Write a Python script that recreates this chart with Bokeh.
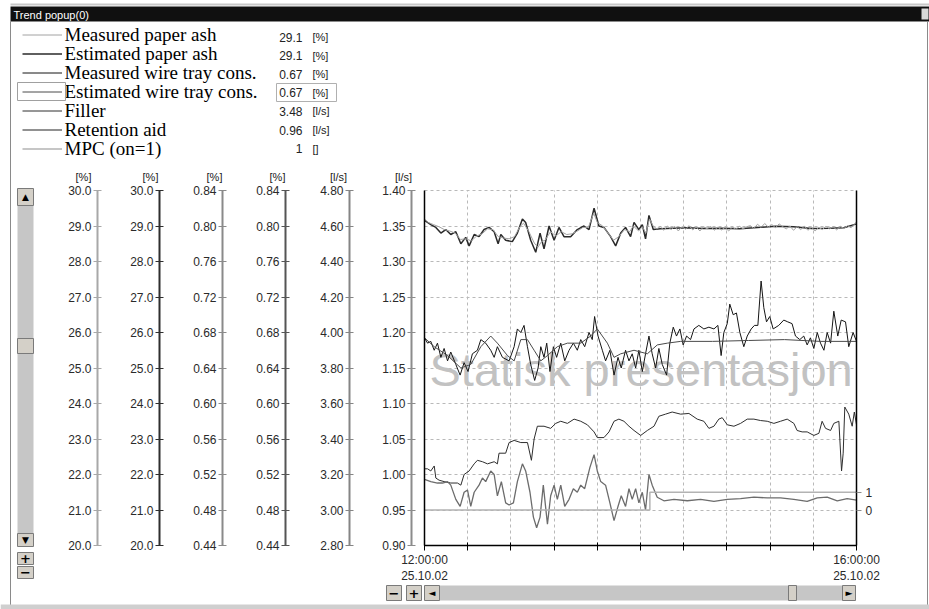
from bokeh.plotting import figure
from bokeh.models import (Range1d, LinearAxis, FixedTicker, PrintfTickFormatter, Grid,
                          Label, BoxAnnotation, Legend, LegendItem)
from bokeh.embed import file_html
from bokeh.resources import INLINE

# ------------------------------------------------------------------ data
window_title = "Trend popup(0)"
watermark = "Statisk presentasjon"

series_names = ["Measured paper ash", "Estimated paper ash", "Measured wire tray cons.",
                "Estimated wire tray cons.", "Filler", "Retention aid", "MPC (on=1)"]
series_units = ["[%]", "[%]", "[%]", "[%]", "[l/s]", "[l/s]", "[]"]
axis_units = ["[%]", "[%]", "[%]", "[%]", "[l/s]", "[l/s]"]

# time in minutes after 12:00:00
x_ticks = [0, 24, 48, 72, 96, 120, 144, 168, 192, 216, 240]
x_tick_labels = ["12:00:00\n25.10.02", "", "", "", "", "", "", "", "", "", "16:00:00\n25.10.02"]

ash_ticks = [20, 21, 22, 23, 24, 25, 26, 27, 28, 29, 30]
wire_ticks = [0.44, 0.48, 0.52, 0.56, 0.60, 0.64, 0.68, 0.72, 0.76, 0.80, 0.84]
filler_ticks = [2.8, 3.0, 3.2, 3.4, 3.6, 3.8, 4.0, 4.2, 4.4, 4.6, 4.8]
ret_ticks = [0.90, 0.95, 1.00, 1.05, 1.10, 1.15, 1.20, 1.25, 1.30, 1.35, 1.40]
mpc_ticks = [0, 1]

t_ash_meas = [0, 2, 5, 8, 11, 14, 17, 20, 23, 26, 29, 32, 35, 38, 41, 44, 47, 50, 53, 55,
              58, 61, 63, 65, 67, 70, 73, 76, 79, 82, 85, 88, 91, 94, 96, 99, 102, 105, 108, 111,
              114, 116, 119, 121, 123, 125, 127, 129, 131, 133, 135, 137, 139, 141, 143, 145,
              147, 149, 151, 153, 155, 157, 159, 161, 163, 165, 167, 169, 171, 173, 175, 177,
              179, 181, 183, 185, 187, 189, 191, 193, 195, 197, 199, 201, 203, 205, 207, 209,
              211, 213, 215, 217, 219, 221, 223, 225, 227, 229, 231, 233, 235, 237, 239, 240]
ash_meas = [29.20, 29.10, 29.04, 28.98, 28.90, 28.86, 28.80, 28.62, 28.64, 28.58, 28.72, 28.78,
            28.92, 28.90, 28.70, 28.66, 28.64, 28.70, 28.98, 29.08, 28.84, 28.52, 28.40, 28.56,
            28.60, 28.84, 28.72, 28.84, 28.76, 28.78, 28.86, 28.96, 28.96, 29.36, 29.10, 29.00,
            28.80, 28.60, 28.70, 28.90, 28.84, 29.00, 28.86, 28.98, 28.80, 29.20, 29.00, 28.92,
            28.98, 28.88, 29.00, 28.90, 28.99, 28.86, 28.98, 28.91, 29.01, 28.89, 28.97, 28.86,
            28.98, 28.92, 28.99, 28.88, 28.97, 28.89, 28.96, 28.86, 28.97, 28.91, 28.99, 28.92,
            28.98, 29.01, 28.93, 29.05, 28.96, 29.07, 28.97, 29.04, 28.95, 29.06, 28.98, 28.92,
            29.00, 28.88, 28.98, 28.90, 28.99, 28.88, 28.97, 28.86, 28.96, 28.90, 28.99, 28.92,
            28.98, 28.89, 28.99, 28.93, 29.01, 28.95, 29.06, 29.12]

t_ash_est = [0, 3.5, 6.3, 9.1, 11.8, 14.6, 17.4, 20.2, 22.9, 24.8, 27.6, 30.3, 33.1, 35.9, 38.7,
             40.9, 42.4, 45.1, 48.8, 51.6, 54.4, 56.2, 59.0, 61.8, 64.2, 66.4, 69.2, 72.0, 74.7,
             77.5, 81.2, 84.9, 88.6, 91.4, 94.2, 96.9, 99.7, 103.4, 106.2, 109.0, 111.7, 114.5,
             116.4, 119.1, 121.0, 122.8, 124.7, 127.1, 131, 138, 146, 155, 165, 175, 185, 195,
             205, 215, 225, 233, 240]
ash_est = [29.16, 29.04, 28.96, 28.80, 28.90, 28.76, 28.84, 28.50, 28.68, 28.44, 28.76, 28.70,
           28.90, 28.96, 28.84, 28.50, 28.76, 28.60, 28.56, 28.80, 29.20, 29.10, 28.60, 28.26,
           28.80, 28.36, 29.00, 28.60, 28.96, 28.70, 28.70, 28.90, 29.00, 28.90, 29.50, 29.00,
           28.96, 28.70, 28.44, 28.80, 28.96, 28.70, 29.10, 28.90, 29.04, 28.64, 29.30, 28.90,
           28.92, 28.94, 28.95, 28.93, 28.94, 28.92, 28.96, 28.99, 28.98, 28.93, 28.94, 28.95,
           29.06]

t_wire_meas = [0, 1.7, 3.5, 5.4, 7.2, 9.1, 10.9, 12.8, 14.6, 17.4, 19.8, 22.0, 24.2, 26.6, 29.4,
               31.3, 34.0, 36.8, 38.7, 40.5, 43.3, 47.0, 49.8, 51.6, 53.5, 55.3, 57.2, 59.0, 61.2,
               63.1, 64.6, 66.4, 67.9, 69.7, 71.6, 73.4, 75.7, 77.9, 80.3, 82.7, 84.9, 86.8, 89.0,
               91.4, 93.2, 94.5, 96.4, 98.8, 100.6, 103.0, 105.3, 107.5, 109.3, 111.7, 113.6,
               115.4, 117.3, 119.1, 121.0, 122.8, 124.7, 126.5, 128.4, 130.2, 132.1, 134.5, 136.3,
               138.2, 140.0, 141.9, 143.7, 145.6, 147.8, 149.7, 152.4, 155.2, 158.0, 160.8, 163.0,
               164.8, 166.3, 168.2, 169.6, 171.5, 173.3, 175.2, 177.4, 179.3, 181.5, 183.3, 185.2,
               187.0, 188.5, 190.0, 191.8, 193.7, 196.8, 199.6, 201.8, 204.2, 206.1, 208.5, 210.7,
               212.6, 214.4, 216.3, 218.2, 220.0, 221.9, 223.7, 225.6, 227.4, 229.6, 231.5, 233.9,
               235.7, 238.1, 240]
wire_meas = [0.674, 0.668, 0.670, 0.660, 0.668, 0.652, 0.662, 0.648, 0.658, 0.644,
             0.632, 0.646, 0.636, 0.656, 0.660, 0.672, 0.668, 0.660, 0.652, 0.664,
             0.652, 0.648, 0.664, 0.684, 0.680, 0.688, 0.664, 0.644, 0.626, 0.640,
             0.664, 0.652, 0.668, 0.636, 0.664, 0.652, 0.668, 0.648, 0.660, 0.668,
             0.660, 0.672, 0.664, 0.680, 0.672, 0.698, 0.676, 0.660, 0.648, 0.660,
             0.632, 0.652, 0.640, 0.660, 0.648, 0.656, 0.640, 0.660, 0.636, 0.656,
             0.676, 0.656, 0.640, 0.662, 0.644, 0.632, 0.668, 0.686, 0.676, 0.684,
             0.666, 0.676, 0.672, 0.684, 0.688, 0.684, 0.686, 0.684, 0.688, 0.654,
             0.680, 0.690, 0.712, 0.700, 0.702, 0.680, 0.664, 0.676, 0.684, 0.688,
             0.688, 0.738, 0.708, 0.692, 0.698, 0.684, 0.688, 0.694, 0.692, 0.690,
             0.676, 0.672, 0.676, 0.666, 0.674, 0.662, 0.680, 0.668, 0.660, 0.680,
             0.668, 0.704, 0.676, 0.694, 0.692, 0.664, 0.680, 0.670]

t_wire_est = [0, 5.4, 12.8, 20.2, 25.7, 31.3, 36.8, 40.5, 46.1, 49.8, 53.5, 57.2, 60.9, 64.6,
              68.3, 73.8, 79.4, 86.8, 92.3, 96.0, 101.6, 105.3, 109.0, 116.4, 123.8, 129.3,
              134.9, 142.3, 160, 180, 200, 220, 240]
wire_est = [0.674, 0.664, 0.654, 0.640, 0.644, 0.664, 0.676, 0.668, 0.654, 0.648, 0.672, 0.672,
            0.660, 0.648, 0.654, 0.664, 0.668, 0.668, 0.676, 0.684, 0.668, 0.652, 0.656, 0.660,
            0.656, 0.666, 0.668, 0.670, 0.670, 0.671, 0.672, 0.670, 0.670]

t_filler = [0, 1.7, 3.5, 5.4, 6.3, 8.1, 10.9, 14.6, 18.3, 20.2, 22.0, 24.8, 27.6, 29.4, 32.2,
            35.0, 38.7, 40.5, 41.4, 45.1, 47.0, 49.8, 53.5, 57.2, 59.4, 60.9, 62.7, 66.4, 70.1,
            72.9, 75.7, 79.4, 83.1, 86.8, 90.5, 94.2, 96.0, 99.7, 102.5, 105.3, 108.0, 110.8,
            113.6, 116.4, 120.1, 123.8, 127.5, 130.2, 133.9, 137.6, 142.3, 146.9, 151.5, 155.2,
            158.0, 160.8, 163.5, 165.4, 168.2, 171.9, 175.6, 179.3, 183.0, 186.7, 190.4, 194.1,
            197.8, 201.5, 205.2, 207.0, 209.8, 212.6, 216.3, 219.1, 220.9, 222.8, 225.6, 227.4,
            230.2, 231.7, 232.6, 233.5, 235.7, 237.6, 238.8, 240]
filler = [3.232, 3.232, 3.220, 3.248, 3.180, 3.168, 3.160, 3.152, 3.152, 3.140,
          3.200, 3.220, 3.260, 3.280, 3.272, 3.260, 3.272, 3.260, 3.320, 3.320,
          3.380, 3.392, 3.380, 3.380, 3.280, 3.400, 3.472, 3.472, 3.460, 3.488,
          3.500, 3.488, 3.512, 3.500, 3.480, 3.440, 3.408, 3.408, 3.440, 3.500,
          3.512, 3.500, 3.472, 3.448, 3.420, 3.448, 3.472, 3.528, 3.540, 3.552,
          3.540, 3.544, 3.512, 3.500, 3.460, 3.472, 3.512, 3.520, 3.480, 3.472,
          3.488, 3.512, 3.512, 3.504, 3.500, 3.488, 3.500, 3.512, 3.488, 3.448,
          3.440, 3.440, 3.420, 3.432, 3.500, 3.460, 3.448, 3.488, 3.500, 3.220,
          3.320, 3.580, 3.540, 3.472, 3.552, 3.480]

t_ret = [0, 3.5, 7.2, 10.0, 12.8, 14.6, 17.4, 19.8, 22.0, 23.9, 25.7, 27.6, 30.3, 32.2, 34.0,
         36.8, 38.7, 40.5, 42.7, 45.1, 47.0, 49.4, 51.6, 54.4, 56.2, 58.6, 60.5, 62.3, 64.2,
         66.0, 68.3, 70.1, 72.0, 73.8, 75.7, 77.9, 80.3, 82.7, 84.9, 86.8, 89.0, 91.9, 94.2,
         96.0, 97.9, 100.6, 103.0, 105.3, 107.5, 109.3, 111.7, 113.6, 115.4, 117.3, 119.1,
         121.0, 122.8, 124.7, 126.5, 129.3, 133.0, 138.6, 146.0, 153.4, 160.8, 168.2, 175.6,
         183.0, 190.4, 197.8, 205.2, 212.6, 218.2, 223.7, 229.3, 234.8, 240]
ret_aid = [0.993, 0.990, 0.988, 0.988, 0.990, 0.985, 0.965, 0.955, 0.975, 0.978,
           0.955, 0.975, 0.985, 0.995, 0.990, 1.005, 1.000, 0.970, 0.990, 0.960,
           0.957, 0.960, 0.990, 1.015, 1.005, 0.975, 0.940, 0.925, 0.940, 0.985,
           0.930, 0.970, 0.985, 0.965, 0.985, 0.955, 0.965, 0.980, 0.975, 0.985,
           0.980, 1.010, 1.028, 1.005, 0.990, 0.985, 0.960, 0.935, 0.955, 0.970,
           0.955, 0.980, 0.965, 0.980, 0.960, 0.975, 0.950, 1.000, 0.985, 0.968,
           0.963, 0.965, 0.963, 0.965, 0.962, 0.965, 0.966, 0.968, 0.967, 0.967,
           0.965, 0.962, 0.967, 0.968, 0.963, 0.966, 0.964]

t_mpc = [0, 125.2, 125.2, 240]
mpc = [0, 0, 1, 1]

# ------------------------------------------------------------------ layout
# The plot frame covers the whole page; every scale is pinned to pixel anchors
# so that the trend area spans x 424..856 and y 190..545.
W, H = 929, 609
PX_T0, PX_T1 = 424, 856          # 12:00 and 16:00
PY_TOP, PY_BOT = 190, 545        # top and bottom of the value axes
AXIS_PX = [97, 159, 222, 285, 349, 411]   # left value axes, outermost first
PY_MPC0, PY_MPC1 = 509.5, 491.75           # MPC 0 and 1


def fitted_range(v0, v1, p0, p1, size):
    """Range whose value v0 sits at pixel p0 and v1 at pixel p1 (measured from the low end)."""
    k = (v1 - v0) / (p1 - p0)
    return Range1d(v0 - p0 * k, v0 + (size - p0) * k)


def y_range_for(lo, hi):
    return fitted_range(lo, hi, H - PY_BOT, H - PY_TOP, H)


x_range = fitted_range(0, 240, PX_T0, PX_T1, W)


def x_at(px):
    return (px - PX_T0) * 240.0 / (PX_T1 - PX_T0)


p = figure(width=W, height=H, output_backend="svg", toolbar_location=None,
           x_range=x_range, y_range=y_range_for(0.90, 1.40),
           x_axis_type=None, y_axis_type=None,
           min_border_left=0, min_border_right=0, min_border_top=0, min_border_bottom=0)
p.outline_line_color = None
p.background_fill_color = "white"
p.border_fill_color = "white"

p.extra_y_ranges = {
    "ash": y_range_for(20, 30),
    "wire": y_range_for(0.44, 0.84),
    "filler": y_range_for(2.8, 4.8),
    "mpc": fitted_range(0, 1, H - PY_MPC0, H - PY_MPC1, H),
}


def sx(cx):
    return cx


def sy(cy):
    return H - cy


# dashed grid inside the trend area
p.add_layout(Grid(dimension=0, ticker=FixedTicker(ticks=x_ticks), cross_bounds=(0.90, 1.40),
                  grid_line_color="#b9b9b9", grid_line_dash="3 3"))
p.add_layout(Grid(dimension=1, ticker=FixedTicker(ticks=ret_ticks), cross_bounds=(0, 240),
                  grid_line_color="#b9b9b9", grid_line_dash="3 3"))

# watermark behind the traces
p.add_layout(Label(x=sx(429), y=sy(369), x_units="screen", y_units="screen",
                   text=watermark, text_font="Liberation Sans", text_font_size="47px",
                   text_color="#c2c2c2", text_baseline="middle", level="underlay"))

# traces
r_ash_e = p.line(t_ash_est, ash_est, y_range_name="ash", line_color="#2a2a2a", line_width=1.5)
r_ash_m = p.line(t_ash_meas, ash_meas, y_range_name="ash", line_color="#a2a2a2", line_width=1)
r_wire_m = p.line(t_wire_meas, wire_meas, y_range_name="wire", line_color="#151515", line_width=1)
r_wire_e = p.line(t_wire_est, wire_est, y_range_name="wire", line_color="#4a4a4a", line_width=1)
r_fill = p.line(t_filler, filler, y_range_name="filler", line_color="#2e2e2e", line_width=1)
r_ret = p.line(t_ret, ret_aid, line_color="#6c6c6c", line_width=1.3)
r_mpc = p.line(t_mpc, mpc, y_range_name="mpc", line_color="#b3b3b3", line_width=1.5)
renderers = [r_ash_m, r_ash_e, r_wire_m, r_wire_e, r_fill, r_ret, r_mpc]


def plain_ticks(ax, size="12px"):
    ax.minor_tick_in = 0
    ax.minor_tick_out = 0
    ax.major_label_text_font = "Liberation Sans"
    ax.major_label_text_font_size = size
    ax.major_label_text_color = "#2a2a2a"


# time axis
xa = LinearAxis(fixed_location=0.90, bounds=(0, 240), ticker=FixedTicker(ticks=x_ticks),
                major_label_overrides=dict(zip(x_ticks, x_tick_labels)))
xa.axis_line_color = "black"
xa.axis_line_width = 1.5
xa.major_tick_line_color = "black"
xa.major_tick_in = 3
xa.major_tick_out = 5
xa.major_label_standoff = 2
plain_ticks(xa)
p.add_layout(xa, "below")

# left edge of the trend area
edge = LinearAxis(fixed_location=0, bounds=(0.90, 1.40), ticker=FixedTicker(ticks=[]))
edge.axis_line_color = "black"
edge.axis_line_width = 1.5
p.add_layout(edge, "left")

# value axes, outermost first
left_axes = [
    ("ash", ash_ticks, (20, 30), "%.1f", "#a8a8a8"),
    ("ash", ash_ticks, (20, 30), "%.1f", "#2e2e2e"),
    ("wire", wire_ticks, (0.44, 0.84), "%.2f", "#8a8a8a"),
    ("wire", wire_ticks, (0.44, 0.84), "%.2f", "#555555"),
    ("filler", filler_ticks, (2.8, 4.8), "%.2f", "#858585"),
    ("default", ret_ticks, (0.90, 1.40), "%.2f", "#8c8c8c"),
]
for px, (name, ticks, bounds, fmt, color) in zip(AXIS_PX, left_axes):
    ax = LinearAxis(y_range_name=name, fixed_location=x_at(px), bounds=bounds,
                    ticker=FixedTicker(ticks=ticks), formatter=PrintfTickFormatter(format=fmt))
    ax.axis_line_color = color
    ax.axis_line_width = 2
    ax.major_tick_line_color = color
    ax.major_tick_in = 4
    ax.major_tick_out = 4
    ax.major_label_standoff = 2
    plain_ticks(ax)
    p.add_layout(ax, "left")

# MPC on/off axis on the right edge of the trend area
ax_mpc = LinearAxis(y_range_name="mpc", fixed_location=240, bounds=(-2, 18),
                    ticker=FixedTicker(ticks=mpc_ticks), formatter=PrintfTickFormatter(format="%d"))
ax_mpc.axis_line_color = "black"
ax_mpc.axis_line_width = 1.5
ax_mpc.major_tick_line_color = "#8c8c8c"
ax_mpc.major_tick_in = 0
ax_mpc.major_tick_out = 5
ax_mpc.major_label_standoff = 4
plain_ticks(ax_mpc)
p.add_layout(ax_mpc, "right")


def add_text(cx, cy, text, size="12px", color="#222222", font="Liberation Sans",
             align="left", baseline="middle", style="normal"):
    p.add_layout(Label(x=sx(cx), y=sy(cy), x_units="screen", y_units="screen", text=text,
                       text_font=font, text_font_size=size, text_color=color,
                       text_align=align, text_baseline=baseline, text_font_style=style,
                       level="overlay"))


def add_box(x0, y0, x1, y1, fill=None, line=None, lw=1):
    p.add_layout(BoxAnnotation(left=sx(x0), right=sx(x1), top=sy(y0), bottom=sy(y1),
                               left_units="screen", right_units="screen",
                               top_units="screen", bottom_units="screen",
                               fill_color=fill, fill_alpha=1.0 if fill else 0.0,
                               line_color=line, line_alpha=1.0 if line else 0.0,
                               line_width=lw, level="overlay"))


# legend: line keys from a compact Legend, names and current values as text beside them
ROW_STEP = 19
FIRST_ROW_Y = 34
n_rows = len(series_names)
legend = Legend(items=[LegendItem(label=" ", renderers=[r]) for r in renderers],
                location=(sx(22), sy(FIRST_ROW_Y - ROW_STEP / 2) - n_rows * ROW_STEP),
                label_text_font_size="1px", label_width=1, label_height=ROW_STEP,
                glyph_width=40, glyph_height=ROW_STEP, label_standoff=0, spacing=0,
                padding=0, margin=0, border_line_color=None, background_fill_alpha=0)
p.add_layout(legend)

last_values = [ash_meas[-1], ash_est[-1], wire_meas[-1], wire_est[-1], filler[-1], ret_aid[-1], mpc[-1]]
value_formats = ["%.1f", "%.1f", "%.2f", "%.2f", "%.2f", "%.2f", "%d"]
for i, (name, v, fmt, u) in enumerate(zip(series_names, last_values, value_formats, series_units)):
    add_text(64, FIRST_ROW_Y + ROW_STEP * i, name, size="19px", color="black",
             font="Liberation Serif")
    cy = 36.5 + 18.6 * i
    add_text(302, cy, fmt % v, align="right")
    add_text(312, cy, u, size="11px")

# selected legend entry
add_box(17, 82, 65, 100, line="#a0a0a0")
add_box(276, 83, 336, 101, line="#b0b0b0")

# unit captions above the axes
for cx, u in zip([83, 150, 214, 277, 338, 403], axis_units):
    add_text(cx, 176, u, size="11px", align="center")

# window chrome
add_box(10, 3, 929, 5, fill="#c8c8c8")
add_box(10, 6, 929, 21, fill="#101010")
add_text(13, 14, window_title, size="11px", color="white")
add_box(921, 8, 928, 19, fill="#d8d8d8")
add_box(10, 21, 927, 605, line="#8a8a8a")
add_box(0, 604, 929, 609, fill="#cfcfcf")

# vertical scroll bar and zoom buttons
add_box(17, 205, 33, 533, fill="#c6c6c6")
for y0, y1, sym in [(188, 205, "\u25b2"), (533, 546, "\u25bc"), (338, 353, ""),
                    (552, 564, "+"), (566, 578, "\u2212")]:
    add_box(17, y0, 33, y1, fill="#d4d0c8", line="#7a7a7a")
    if sym:
        add_text(25, (y0 + y1) / 2, sym, size="9px" if sym in "\u25b2\u25bc" else "13px",
                 color="black", font="DejaVu Sans", align="center", style="bold")

# horizontal scroll bar and zoom buttons
add_box(439, 585, 842, 600, fill="#c6c6c6")
for x0, x1, sym in [(386, 401, "\u2212"), (406, 421, "+"), (424, 439, "\u25c4"),
                    (788, 796, ""), (842, 855, "\u25ba")]:
    add_box(x0, 585, x1, 600, fill="#d4d0c8", line="#7a7a7a")
    if sym:
        add_text((x0 + x1) / 2, 592.5, sym, size="9px" if sym in "\u25c4\u25ba" else "13px",
                 color="black", font="DejaVu Sans", align="center", style="bold")

open("out.html", "w").write(file_html(p, INLINE))
